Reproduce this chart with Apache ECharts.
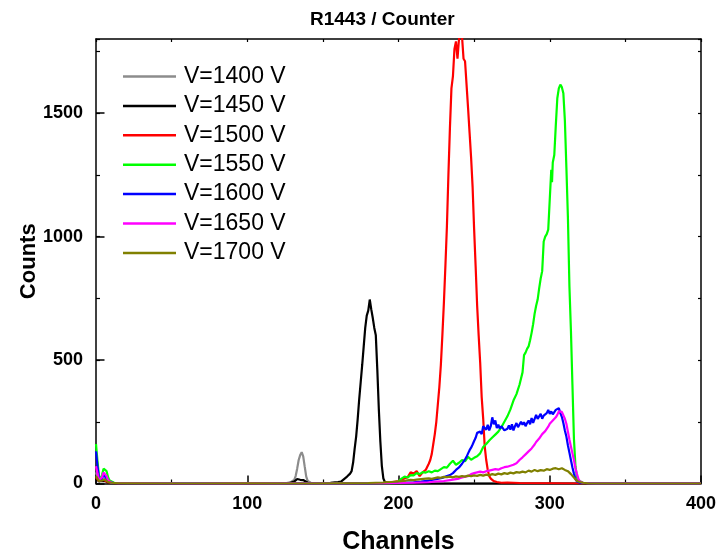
<!DOCTYPE html>
<html>
<head>
<meta charset="utf-8">
<script src="https://cdn.jsdelivr.net/npm/echarts@6/dist/echarts.min.js"></script>
<style>
html,body{margin:0;padding:0;background:#fff;}
#chart{width:718px;height:554px;}
</style>
</head>
<body>
<div id="chart"></div>
<script>
const titleText = 'R1443 / Counter';
const xName = 'Channels';
const yName = 'Counts';
const seriesNames = ['V=1400 V','V=1450 V','V=1500 V','V=1550 V','V=1600 V','V=1650 V','V=1700 V'];
const seriesColors = ['#8c8c8c','#000000','#ff0000','#00ff00','#0000ff','#ff00ff','#808000'];

const ch1400 = [0,1,2,3,4,5,6,7,8,10,12,15,20,30,40,50,60,70,80,90,100,110,120,126,129,131,132,133,134,135,136,137,138,139,140,142,145,150,170,200,250,300,350,400];
const cnt1400 = [45,30,12,8,10,18,20,15,8,4,2,2,1,2,1,1,0,1,0,1,0,1,0,2,6,14,30,60,95,115,127,110,68,28,10,3,1,0,0,0,0,0,0,0];

const ch1450 = [0,2,4,5,6,8,10,15,20,40,60,80,100,120,128,131,133,134,135,136,137,138,140,145,150,155,158,160,162,164,166,168,169,170,171,172,173,174,175,176,177,178,179,180,181,182,183,184,185,186,187,188,189,190,191,192,195,200,250,300,400];
const cnt1450 = [20,8,10,12,10,4,2,1,0,1,0,1,0,1,2,8,18,20,15,12,14,8,3,1,2,3,5,6,8,18,28,40,50,85,140,190,260,340,410,480,555,630,680,700,745,705,670,630,600,460,300,170,70,20,6,2,1,0,0,0,0];

const ch1500 = [0,2,5,8,12,20,60,100,140,180,190,195,200,203,206,208,210,212,214,216,218,220,221,222,223,224,225,226,227,228,229,230,231,232,233,234,235,236,237,238,239,240,241,242,243,244,245,246,247,248,249,250,251,252,253,254,255,256,257,258,259,260,261,262,263,265,268,272,280,300,320,400];
const cnt1500 = [25,10,15,5,1,1,0,1,0,2,3,5,10,18,25,45,40,50,30,45,55,80,95,120,160,200,250,320,390,480,600,730,880,1040,1250,1440,1600,1650,1760,1790,1720,1800,1820,1810,1720,1710,1705,1520,1420,1320,1200,1030,880,720,600,490,350,262,150,95,55,30,20,12,10,6,3,4,2,1,0,0];

const ch1550 = [0,1,2,3,4,5,6,7,8,9,10,12,15,20,60,100,140,180,190,195,200,202,204,206,208,210,212,214,216,218,220,222,224,226,228,230,232,234,236,238,240,242,244,246,248,250,252,254,256,258,260,262,264,266,268,270,272,274,276,278,280,282,283,284,285,286,287,288,289,290,291,292,293,294,295,296,297,298,299,300,301,301.5,302,303,304,305,306,307,308,309,310,311,312,313,314,315,316,317,318,319,320,322,325,330,400];
const cnt1550 = [160,90,30,15,35,60,65,50,25,12,6,3,2,1,2,1,0,2,3,4,8,20,28,24,34,33,42,38,46,44,50,45,52,50,58,66,64,80,92,76,84,95,90,108,96,104,110,122,148,160,174,186,198,210,228,250,272,300,336,362,400,450,520,530,545,555,580,610,645,688,720,745,790,830,860,980,1000,1010,1028,1150,1270,1220,1300,1330,1450,1560,1600,1615,1605,1580,1470,1280,1080,800,620,400,180,70,25,12,6,3,1,0,0];

const ch1600 = [0,1,2,3,4,5,6,7,8,10,12,15,20,60,100,140,180,200,210,215,220,225,228,230,232,234,236,238,240,241,242,243,244,245,246,247,248,249,250,251,252,253,254,255,256,257,258,259,260,261,262,263,264,265,266,267,268,269,270,271,272,273,274,275,276,277,278,279,280,281,282,283,284,285,286,287,288,289,290,291,292,293,294,295,296,297,298,299,300,301,302,303,304,305,306,307,308,309,310,311,312,313,314,315,316,317,318,320,325,330,400];
const cnt1600 = [130,70,20,10,20,35,30,20,10,4,2,1,1,0,1,0,1,3,5,8,12,18,22,25,30,34,42,55,65,72,80,88,98,108,122,135,145,158,172,185,205,198,210,200,232,225,218,238,215,232,268,240,255,225,238,222,232,228,215,212,222,235,218,240,215,232,245,228,232,250,238,248,232,245,255,240,265,245,262,278,262,270,282,262,275,268,285,298,282,292,280,285,298,300,305,285,270,245,215,190,155,125,95,65,40,18,8,3,1,0,0];

const ch1650 = [0,1,2,3,4,5,6,7,8,10,12,15,20,60,100,140,180,200,210,220,225,230,234,238,240,242,244,246,248,250,252,254,256,258,260,262,264,266,268,270,272,274,276,278,279,280,281,282,283,284,285,286,287,288,289,290,291,292,293,294,295,296,297,298,299,300,301,302,303,304,305,306,307,308,309,310,311,312,313,314,315,316,317,318,319,320,322,325,330,400];
const cnt1650 = [70,40,15,10,25,45,45,30,12,4,2,1,1,0,1,0,1,2,3,5,8,10,14,18,20,24,28,30,38,42,45,48,45,50,52,55,58,56,62,66,68,72,76,82,88,95,100,106,112,118,125,130,136,142,150,158,168,172,182,190,200,208,212,218,230,242,248,255,262,268,278,292,298,290,282,262,242,210,178,150,122,95,62,38,18,8,3,1,0,0];

const ch1700 = [0,2,4,5,6,8,10,15,20,60,100,140,180,190,195,200,205,208,210,212,215,218,220,222,224,226,228,230,232,234,236,238,240,242,244,246,248,250,252,254,256,258,260,262,264,266,268,270,272,274,276,278,280,282,284,286,288,290,292,294,296,298,300,302,303,304,305,306,308,310,311,312,313,314,315,316,317,318,320,322,325,330,400];
const cnt1700 = [30,10,12,18,16,6,3,1,1,0,1,0,2,4,6,8,12,15,14,16,18,20,21,19,22,25,23,27,26,28,25,29,27,30,28,32,30,33,31,35,32,36,33,38,35,40,37,42,39,44,41,46,44,48,45,52,48,55,50,54,52,58,55,60,68,62,66,58,62,55,52,50,42,38,30,24,16,10,6,3,1,0,0];

const xTicks = [0,100,200,300,400];
const yTicks = [0,500,1000,1500];

const channelArrays = [ch1400,ch1450,ch1500,ch1550,ch1600,ch1650,ch1700];
const countArrays = [cnt1400,cnt1450,cnt1500,cnt1550,cnt1600,cnt1650,cnt1700];

const FONT = 'Liberation Sans, Arial, sans-serif';
const black = '#000';

const series = seriesNames.map((name, i) => ({
  name: name,
  type: 'line',
  xAxisIndex: 0,
  yAxisIndex: 0,
  symbol: 'none',
  showSymbol: false,
  clip: true,
  animation: false,
  lineStyle: { color: seriesColors[i], width: 2.2 },
  itemStyle: { color: seriesColors[i] },
  data: channelArrays[i].map((c, k) => [c, countArrays[i][k]])
}));

const chart = echarts.init(document.getElementById('chart'), null, {renderer: 'canvas'});
chart.setOption({
  animation: false,
  backgroundColor: '#fff',
  title: {
    text: titleText,
    left: 310, top: 10, padding: 0,
    textStyle: { fontFamily: FONT, fontWeight: 'bold', fontSize: 19, color: black }
  },
  legend: {
    orient: 'vertical',
    left: 123, top: 65, padding: 0,
    icon: 'rect',
    itemWidth: 53, itemHeight: 2.5, itemGap: 6.4,
    data: seriesNames,
    textStyle: { fontFamily: FONT, fontSize: 23, color: black, padding: [0,0,0,3] }
  },
  grid: { left: 96, right: 17, top: 39, bottom: 70.5, containLabel: false, outerBoundsMode: 'none' },
  xAxis: [
    {
      type: 'value', min: xTicks[0], max: xTicks[xTicks.length-1], interval: xTicks[1]-xTicks[0],
      position: 'bottom',
      name: xName, nameLocation: 'middle', nameGap: 46, nameMoveOverlap: false,
      nameTextStyle: { fontFamily: FONT, fontWeight: 'bold', fontSize: 25, color: black },
      axisLine: { show: true, onZero: false, lineStyle: { color: black, width: 1.5 } },
      axisTick: { show: true, inside: true, length: 8, lineStyle: { color: black, width: 1.5 } },
      minorTick: { show: true, splitNumber: 2, length: 4, lineStyle: { color: black, width: 1.2 } },
      splitLine: { show: false },
      axisLabel: { fontFamily: FONT, fontWeight: 'bold', fontSize: 18, color: black, margin: 12, formatter: v => String(v) }
    },
    {
      type: 'value', min: xTicks[0], max: xTicks[xTicks.length-1], interval: 50,
      position: 'top',
      axisLine: { show: true, onZero: false, lineStyle: { color: black, width: 1.5 } },
      axisTick: { show: true, inside: true, length: 3, lineStyle: { color: black, width: 1.2 } },
      axisLabel: { show: false },
      splitLine: { show: false }
    }
  ],
  yAxis: [
    {
      type: 'value', min: 0, max: 1800, interval: yTicks[1]-yTicks[0],
      position: 'left',
      name: yName, nameLocation: 'middle', nameGap: 56, nameMoveOverlap: false,
      nameTextStyle: { fontFamily: FONT, fontWeight: 'bold', fontSize: 22, color: black },
      axisLine: { show: true, onZero: false, lineStyle: { color: black, width: 1.5 } },
      axisTick: { show: true, inside: true, length: 8.5, lineStyle: { color: black, width: 1.5 } },
      splitLine: { show: false },
      axisLabel: { fontFamily: FONT, fontWeight: 'bold', fontSize: 18, color: black, margin: 13, showMaxLabel: false, formatter: v => String(v) }
    },
    {
      type: 'value', min: 0, max: 1800, interval: 250,
      position: 'left',
      axisLine: { show: false, onZero: false },
      axisTick: { show: true, inside: true, length: 4, lineStyle: { color: black, width: 1.2 } },
      axisLabel: { show: false },
      splitLine: { show: false }
    },
    {
      type: 'value', min: 0, max: 1800, interval: 250,
      position: 'right',
      axisLine: { show: true, onZero: false, lineStyle: { color: black, width: 1.5 } },
      axisTick: { show: true, inside: true, length: 3, lineStyle: { color: black, width: 1.2 } },
      axisLabel: { show: false },
      splitLine: { show: false }
    }
  ],
  series: series
});
</script>
</body>
</html>
